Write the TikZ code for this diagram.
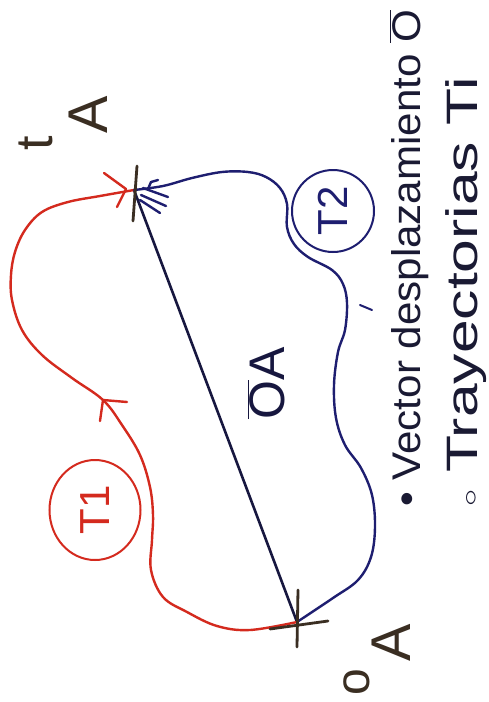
\documentclass[tikz,border=0pt]{standalone}
\usepackage{fontspec}
\setmainfont{Liberation Sans}
\usetikzlibrary{shapes.geometric}
\definecolor{myred}{HTML}{D42A1E}
\definecolor{mynavy}{HTML}{1E1E70}
\definecolor{myline}{HTML}{17173F}
\definecolor{myink}{HTML}{1A1A33}
\definecolor{mybrown}{HTML}{3A2E22}
\begin{document}
\begin{tikzpicture}[x=1pt,y=-1pt,
  redc/.style={draw=myred, line width=2.4pt, line cap=round, line join=round},
  bluec/.style={draw=mynavy, line width=2.4pt, line cap=round, line join=round},
  segc/.style={draw=myline, line width=2.6pt, line cap=round},
  crossc/.style={draw=mybrown, line width=2.8pt, line cap=round},
  txt/.style={text=myink, inner sep=0pt, rotate=90, font=\fontsize{40}{48}\selectfont},
  lbl/.style={text=mybrown, inner sep=0pt, rotate=90},
  tag/.style={inner sep=0pt, rotate=90, line width=2pt, font=\fontsize{42}{50}\selectfont}]
\useasboundingbox (0,0) rectangle (488,702);
\fill[white] (0,0) rectangle (488,702);

% points
\coordinate (O) at (297,622);
\coordinate (A) at (134,190);

% straight displacement vector
\draw[segc] (A) -- (O);

% red trajectory T1
\draw[redc] plot[smooth, tension=0.6] coordinates {(O) (250,630) (217,626) (187,612) (163,597) (151,570) (152,540) (153,515) (150,487) (140,455) (122,425) (103,400) (72,378) (42,355) (22,330) (12,300) (11,275) (15,252) (25,230) (42,212) (68,202) (100,196) (A)};
\draw[redc] (127,402) -- (103,400) -- (100,421);
\draw[redc] (104,173) -- (126,189) -- (117,207);

% blue trajectory T2
\draw[bluec] plot[smooth, tension=0.6] coordinates {(O) (333,598) (358,580) (371,557) (375,527) (372,495) (361,468) (345,445) (336,418) (334,385) (338,352) (345,330) (347,303) (343,284) (332,270) (308,257) (294,244) (287,227) (287,204) (280,188) (266,177) (248,172) (222,172) (192,178) (163,186) (A)};
\draw[bluec] (143,188) -- (168,197);
\draw[bluec] (141,195) -- (166,206);
\draw[bluec] (140,200) -- (160,213);
\draw[bluec] (148,189) -- (151,182) -- (158,180);
\draw[bluec, line width=2pt] (360,305) -- (372,310);

% crosses
\draw[crossc] (137,166) -- (133,221);
\draw[crossc] (298,590) -- (297,647);
\draw[crossc] (270,629) -- (328,621);

% point labels
\node[lbl, font=\fontsize{56}{60}\selectfont] (lA) at (88,115) {A};
\node[lbl, font=\fontsize{52}{56}\selectfont] (lt) at (36,143) {t};
\node[lbl, font=\fontsize{56}{60}\selectfont] (lO) at (391,643) {A};
\node[lbl, font=\fontsize{48}{52}\selectfont] (lo) at (357,682) {o};

% vector label
\node[txt, text=myline, font=\fontsize{50}{60}\selectfont] (vOA) at (266,383) {$\overline{\hbox{O}}$A};

% circled trajectory tags
\node[tag, ellipse, draw=myred, text=myred, minimum width=100pt, minimum height=91pt] (T1) at (95,510) {T1};
\node[tag, circle, draw=mynavy, text=mynavy, minimum size=82pt] (T2) at (333,211) {T2};

% legend text
\node[txt, anchor=base west] (l1) at (420,507) {\resizebox{497pt}{\height}{\textbullet\ Vector desplazamiento $\overline{\hbox{O}}$}};
\node[txt, anchor=base west, font=\fontsize{44}{50}\selectfont] (l2) at (477,507) {\resizebox{430pt}{\height}{$\circ$ Trayectorias Ti}};
\end{tikzpicture}
\end{document}
